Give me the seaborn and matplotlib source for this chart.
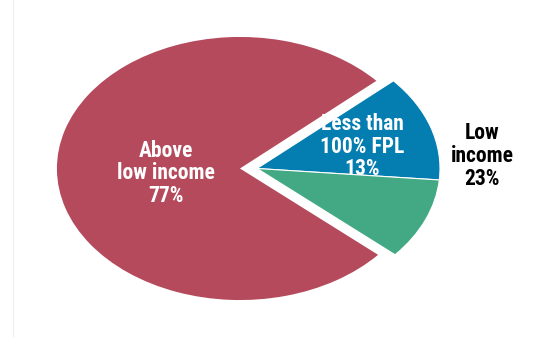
import matplotlib
matplotlib.use("Agg")
import matplotlib.pyplot as plt
from matplotlib.lines import Line2D
import seaborn as sns

# Datos del gráfico (porcentaje de población)
groups = ["100-199% FPL", "Less than 100% FPL", "Above low income"]
shares = [10, 13, 77]
colors = ["#42a984", "#047db0", "#b44a5c"]
low_income_total = 23

sns.set_style("white")
plt.rcParams['font.family'] = ['Roboto Condensed', 'DejaVu Sans']

fig = plt.figure(figsize=(5.5, 3.37), dpi=100)
ax = fig.add_axes([0, 0, 1, 1])

wedges, _ = ax.pie(shares, colors=colors, startangle=-41, counterclock=True,
                   wedgeprops=dict(linewidth=0))
# separar la porción de bajos ingresos hacia la derecha
for w in wedges[:2]:
    w.set_center((0.093, 0))
    w.set_edgecolor("white")
    w.set_linewidth(0.8)
wedges[0].set_zorder(3)
wedges[1].set_zorder(1)

ax.set_aspect("auto")
ax.set_xlim(-1.311, 1.694)
ax.set_ylim(-1.281, 1.281)
ax.axis("off")

fs = 15.5
ax.text(-0.404, -0.038, f"Above\nlow income\n{shares[2]}%", color="white",
        fontsize=fs, fontweight="bold", ha="center", va="center", linespacing=1.03)
ax.text(0.667, 0.165, f"Less than\n100% FPL\n{shares[1]}%", color="white",
        fontsize=fs, fontweight="bold", ha="center", va="center", linespacing=1.03,
        zorder=2)
ax.text(1.322, 0.095, f"Low\nincome\n{low_income_total}%", color="black",
        fontsize=fs, fontweight="bold", ha="center", va="center", linespacing=1.03)

fig.add_artist(Line2D([13 / 550, 13 / 550], [0, 1], color="#f0f0f0", lw=1))

fig.savefig("out.png", dpi=100)
